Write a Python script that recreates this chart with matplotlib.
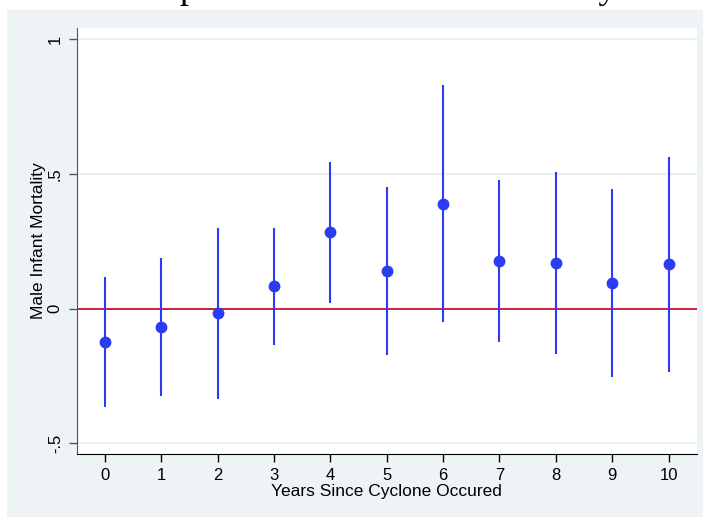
import numpy as np
import matplotlib.pyplot as plt
from matplotlib.patches import Rectangle

# estimates
years = [0, 1, 2, 3, 4, 5, 6, 7, 8, 9, 10]
coef = [-0.124, -0.067, -0.017, 0.083, 0.283, 0.140, 0.390, 0.177, 0.169, 0.096, 0.164]
ci_low = [-0.365, -0.323, -0.336, -0.135, 0.021, -0.171, -0.051, -0.125, -0.167, -0.253, -0.234]
ci_high = [0.117, 0.188, 0.301, 0.301, 0.546, 0.450, 0.829, 0.476, 0.507, 0.445, 0.564]
yticks = [-0.5, 0, 0.5, 1]
ytick_labels = ['-.5', '0', '.5', '1']

plt.rcParams['font.family'] = ['Liberation Sans', 'DejaVu Sans']

fig = plt.figure(figsize=(7.03, 5.17), dpi=100)
fig.patch.set_facecolor('white')
# graph region background
fig.patches.append(Rectangle((7/703, 0), 696/703, 507/517, transform=fig.transFigure,
                             facecolor='#eef3f6', edgecolor='none', zorder=-10))

# title, mostly cut off at the top of the picture
fig.text(377.5/703, 1.0 + 2.5/517, 'Impact on Male Infant Mortality', ha='center', va='baseline',
         fontsize=26.5, family=['Liberation Serif', 'DejaVu Serif'], color='black')

ax = fig.add_axes([76.7/703, 63/517, 620/703, 426/517])
ax.set_facecolor('white')

blue = '#2b3cf2'
ax.vlines(years, ci_low, ci_high, color=blue, lw=1.5, zorder=3)
ax.plot(years, coef, 'o', color=blue, ms=7.5, zorder=4)
ax.axhline(0, color='#c8102e', lw=1.3, zorder=2)

ax.set_xlim(-0.5, 10.5)
ax.set_ylim(-0.54, 1.042)
ax.set_xticks(years)
ax.set_yticks(yticks)
ax.set_yticklabels(ytick_labels, rotation=90, va='center')
for v in [-0.5, 0.5, 1]:
    ax.axhline(v, color='#eaf0f2', lw=1.5, zorder=1)

for s in ['top', 'right']:
    ax.spines[s].set_visible(False)
ax.spines['left'].set_color('#555555')
ax.spines['bottom'].set_color('black')
ax.tick_params(axis='both', direction='out', length=6, width=1, labelsize=12, pad=4)
ax.tick_params(axis='y', colors='#555555', labelcolor='black')

ax.set_xlabel('Years Since Cyclone Occured', fontsize=12.5, labelpad=1)
ax.set_ylabel('Male Infant Mortality', fontsize=12.5, labelpad=1)

fig.savefig('out.png', dpi=100, facecolor=fig.get_facecolor())
